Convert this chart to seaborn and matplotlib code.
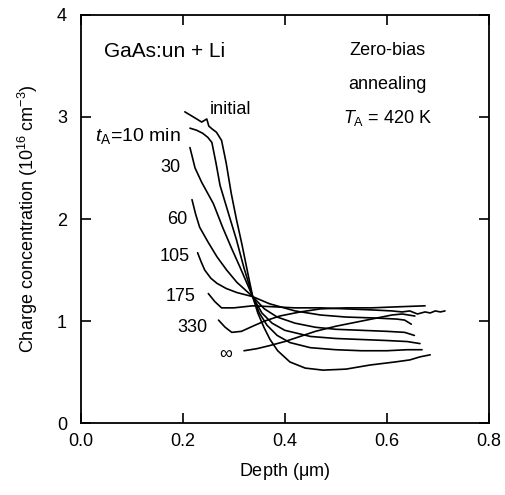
import matplotlib
matplotlib.use("Agg")
import matplotlib.pyplot as plt
import pandas as pd
import seaborn as sns

# depth (um) and charge concentration (1e16 cm^-3)
initial_depth = [0.204, 0.224, 0.237, 0.247, 0.251, 0.258, 0.266, 0.276, 0.285, 0.295, 0.305,
                 0.316, 0.327, 0.337, 0.347, 0.359, 0.371, 0.386, 0.41, 0.44, 0.475, 0.52, 0.567,
                 0.616, 0.645, 0.665, 0.685]
initial_conc = [3.05, 2.99, 2.95, 2.98, 2.91, 2.88, 2.85, 2.77, 2.55, 2.25, 2.00,
                1.75, 1.48, 1.24, 1.08, 0.94, 0.82, 0.71, 0.60, 0.54, 0.52, 0.53, 0.57,
                0.60, 0.62, 0.65, 0.67]

t10_depth = [0.214, 0.227, 0.239, 0.249, 0.257, 0.265, 0.273, 0.288, 0.305, 0.32, 0.337, 0.35,
             0.365, 0.385, 0.41, 0.45, 0.5, 0.55, 0.6, 0.64, 0.669]
t10_conc = [2.89, 2.87, 2.84, 2.80, 2.75, 2.55, 2.33, 2.08, 1.80, 1.52, 1.24, 1.08,
            0.96, 0.86, 0.79, 0.74, 0.72, 0.71, 0.71, 0.72, 0.72]

t30_depth = [0.214, 0.219, 0.224, 0.237, 0.26, 0.278, 0.295, 0.312, 0.337, 0.355, 0.375, 0.40,
             0.45, 0.5, 0.55, 0.6, 0.64, 0.665]
t30_conc = [2.70, 2.60, 2.50, 2.36, 2.15, 1.92, 1.72, 1.53, 1.24, 1.08, 0.98, 0.91,
            0.85, 0.83, 0.82, 0.81, 0.80, 0.78]

t60_depth = [0.218, 0.225, 0.233, 0.25, 0.267, 0.286, 0.306, 0.337, 0.36, 0.385, 0.42, 0.46,
             0.5, 0.55, 0.6, 0.635, 0.654]
t60_conc = [2.19, 2.05, 1.92, 1.77, 1.63, 1.50, 1.38, 1.24, 1.12, 1.04, 0.98, 0.94,
            0.92, 0.91, 0.90, 0.89, 0.86]

t105_depth = [0.229, 0.236, 0.243, 0.255, 0.267, 0.285, 0.306, 0.337, 0.37, 0.42, 0.47, 0.52,
              0.58, 0.62, 0.635, 0.648]
t105_conc = [1.67, 1.58, 1.50, 1.42, 1.37, 1.32, 1.28, 1.24, 1.17, 1.10, 1.06, 1.04,
             1.03, 1.02, 1.01, 0.97]

t175_depth = [0.25, 0.263, 0.276, 0.3, 0.337, 0.38, 0.42, 0.47, 0.52, 0.57, 0.61, 0.63,
              0.645, 0.66, 0.675, 0.685, 0.695, 0.705, 0.714]
t175_conc = [1.27, 1.19, 1.13, 1.13, 1.15, 1.14, 1.13, 1.13, 1.12, 1.11, 1.10, 1.09,
             1.10, 1.07, 1.09, 1.08, 1.10, 1.09, 1.10]

t330_depth = [0.27, 0.283, 0.296, 0.315, 0.337, 0.36, 0.39, 0.43, 0.47, 0.52, 0.57, 0.62, 0.675]
t330_conc = [1.01, 0.94, 0.89, 0.90, 0.95, 1.00, 1.05, 1.09, 1.12, 1.13, 1.13, 1.14, 1.15]

tinf_depth = [0.32, 0.345, 0.37, 0.40, 0.43, 0.46, 0.50, 0.54, 0.58, 0.61, 0.63, 0.655]
tinf_conc = [0.71, 0.73, 0.76, 0.80, 0.85, 0.90, 0.95, 0.99, 1.03, 1.06, 1.07, 1.05]

curve_names = ["initial", "10", "30", "60", "105", "175", "330", "inf"]
curve_depths = [initial_depth, t10_depth, t30_depth, t60_depth, t105_depth, t175_depth, t330_depth, tinf_depth]
curve_concs = [initial_conc, t10_conc, t30_conc, t60_conc, t105_conc, t175_conc, t330_conc, tinf_conc]

# curve labels and where they sit
label_texts = ["initial", "$t_\\mathrm{A}$=10 min", "30", "60", "105", "175", "330", "$\\infty$"]
label_x = [0.253, 0.196, 0.196, 0.208, 0.214, 0.224, 0.249, 0.298]
label_y = [3.07, 2.81, 2.50, 2.00, 1.63, 1.24, 0.94, 0.68]
label_ha = ["left", "right", "right", "right", "right", "right", "right", "right"]
label_size = [13, 14, 13, 13, 13, 13, 13, 13]

rows = []
for name, xs, ys in zip(curve_names, curve_depths, curve_concs):
    for i, (x, y) in enumerate(zip(xs, ys)):
        rows.append({"curve": name, "order": i, "depth": x, "conc": y})
df = pd.DataFrame(rows)

sns.set_style("ticks")
plt.rcParams["font.family"] = ["Liberation Sans", "DejaVu Sans"]
plt.rcParams["mathtext.fontset"] = "custom"
plt.rcParams["mathtext.rm"] = "Liberation Sans"
plt.rcParams["mathtext.it"] = "Liberation Sans:italic"
plt.rcParams["text.color"] = "black"
plt.rcParams["axes.labelcolor"] = "black"

fig = plt.figure(figsize=(5.05, 4.95), dpi=100)
ax = fig.add_axes([0.160, 0.145, 0.808, 0.825])

sns.lineplot(data=df, x="depth", y="conc", units="curve", estimator=None, sort=False,
             color="black", linewidth=1.2, ax=ax, legend=False)

for txt, x, y, ha, fs in zip(label_texts, label_x, label_y, label_ha, label_size):
    ax.text(x, y, txt, ha=ha, va="center", fontsize=fs)

ax.text(0.045, 3.64, "GaAs:un + Li", ha="left", va="center", fontsize=15)
ax.text(0.602, 3.65, "Zero-bias", ha="center", va="center", fontsize=13)
ax.text(0.602, 3.32, "annealing", ha="center", va="center", fontsize=13)
ax.text(0.602, 2.99, "$T_\\mathrm{A}$ = 420 K", ha="center", va="center", fontsize=13)

ax.set_xlim(0, 0.8)
ax.set_ylim(0, 4)
ax.set_xticks([0.0, 0.2, 0.4, 0.6, 0.8])
ax.set_xticklabels(["0.0", "0.2", "0.4", "0.6", "0.8"])
ax.set_yticks([0, 1, 2, 3, 4])
ax.tick_params(direction="in", length=7, width=1.2, labelsize=13, top=True, right=True,
               colors="black")
ax.tick_params(axis="x", pad=7)
ax.tick_params(axis="y", pad=10)
for side in ["top", "bottom", "left", "right"]:
    ax.spines[side].set_visible(True)
    ax.spines[side].set_linewidth(1.3)
    ax.spines[side].set_color("black")

ax.set_xlabel("Depth ($\\mathrm{\\mu}$m)", fontsize=13, labelpad=8)
ax.set_ylabel("Charge concentration (10$^{16}$ cm$^{-3}$)", fontsize=13, labelpad=12)

fig.savefig("out.png", dpi=100)
